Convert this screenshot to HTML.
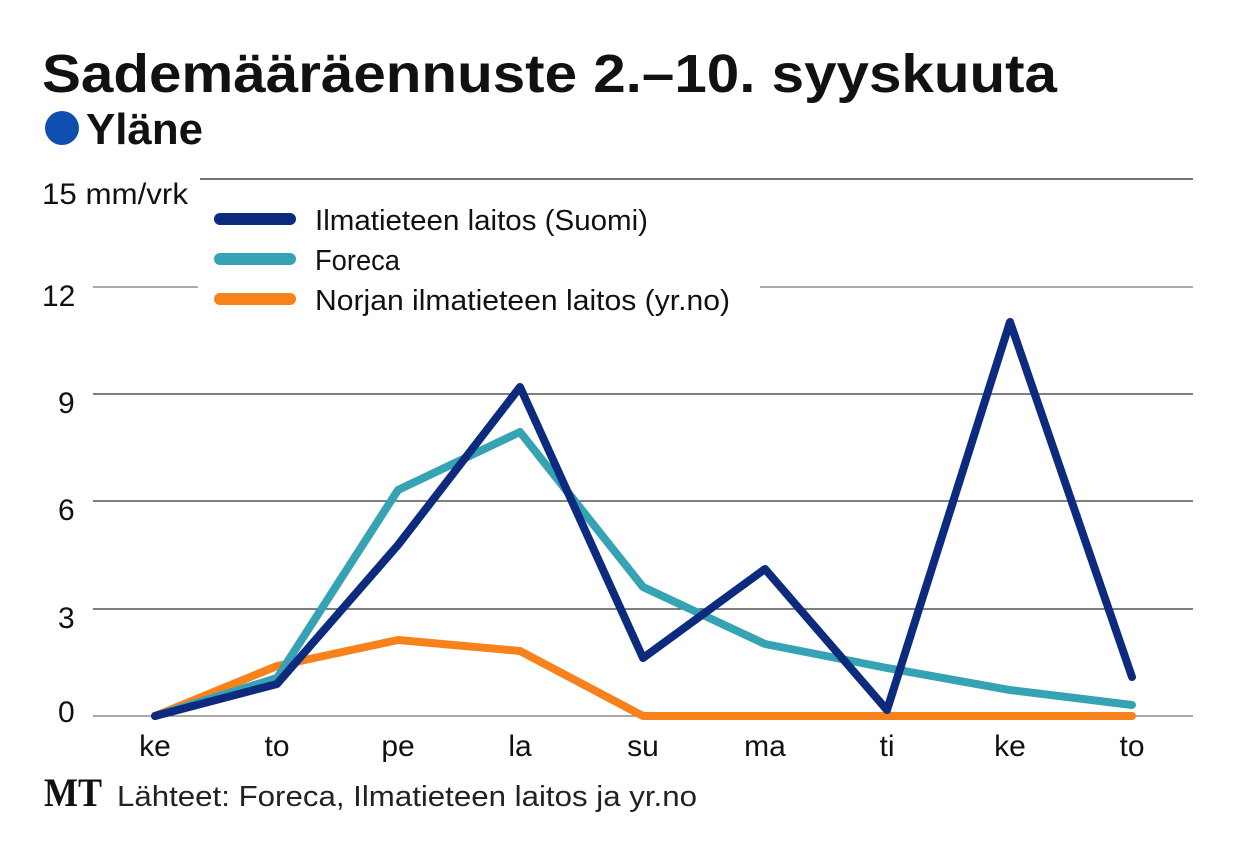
<!DOCTYPE html>
<html><head><meta charset="utf-8"><style>
body{margin:0;background:#fff;width:1240px;height:854px;overflow:hidden}
svg{display:block;font-family:"Liberation Sans",sans-serif}
</style></head><body>
<svg width="1240" height="854" viewBox="0 0 1240 854">
<text x="42" y="92" font-size="54" font-weight="bold" fill="#111" textLength="1015" lengthAdjust="spacingAndGlyphs">Sademääräennuste 2.–10. syyskuuta</text>
<circle cx="62" cy="128" r="17" fill="#0f4fb0"/>
<text x="86" y="144" font-size="44" font-weight="bold" fill="#111" textLength="117" lengthAdjust="spacingAndGlyphs">Yläne</text>
<g stroke="#777" stroke-width="1.3">
<line x1="200" y1="179" x2="1193" y2="179" stroke="#222"/>
<line x1="93" y1="287" x2="198" y2="287"/>
<line x1="760" y1="287" x2="1193" y2="287"/>
<line x1="93" y1="394" x2="1193" y2="394" stroke="#333"/>
<line x1="93" y1="501" x2="1193" y2="501" stroke="#333"/>
<line x1="93" y1="609" x2="1193" y2="609" stroke="#333"/>
<line x1="93" y1="716" x2="1193" y2="716"/>
</g>
<g font-size="30" fill="#111">
<text x="42" y="204" textLength="146" lengthAdjust="spacingAndGlyphs">15 mm/vrk</text>
<text x="42" y="306">12</text>
<text x="58" y="413">9</text>
<text x="58" y="520">6</text>
<text x="58" y="628">3</text>
<text x="58" y="722">0</text>
</g>
<g font-size="30" fill="#111" text-anchor="middle">
<text x="155" y="756">ke</text><text x="277" y="756">to</text><text x="398" y="756">pe</text>
<text x="520" y="756">la</text><text x="643" y="756">su</text><text x="765" y="756">ma</text>
<text x="887" y="756">ti</text><text x="1010" y="756">ke</text><text x="1132" y="756">to</text>
</g>
<g fill="none" stroke-width="8" stroke-linejoin="round" stroke-linecap="round">
<polyline stroke="#f7821b" points="155,716 277,666 398,640 520,651 643,716 765,716 887,716 1010,716 1132,716"/>
<polyline stroke="#36a3b5" points="155,716 277,678 398,490 520,432 643,587 765,644 887,668 1010,690 1132,705"/>
<polyline stroke="#0c2a7e" points="155,716 277,684 398,545 520,387 643,658 765,569 887,710 1010,322 1132,677"/>
</g>
<g stroke-width="12" stroke-linecap="round">
<line x1="220" y1="219" x2="290" y2="219" stroke="#0c2a7e"/>
<line x1="220" y1="259" x2="290" y2="259" stroke="#36a3b5"/>
<line x1="220" y1="299" x2="290" y2="299" stroke="#f7821b"/>
</g>
<g font-size="29" fill="#111">
<text x="315" y="230" textLength="333" lengthAdjust="spacingAndGlyphs">Ilmatieteen laitos (Suomi)</text>
<text x="315" y="270" textLength="85" lengthAdjust="spacingAndGlyphs">Foreca</text>
<text x="315" y="310" textLength="415" lengthAdjust="spacingAndGlyphs">Norjan ilmatieteen laitos (yr.no)</text>
</g>
<text x="44" y="806" font-family="Liberation Serif,serif" font-weight="bold" font-size="40" fill="#111" textLength="58" lengthAdjust="spacingAndGlyphs">MT</text>
<text x="117" y="806" font-size="29" fill="#222" textLength="580" lengthAdjust="spacingAndGlyphs">Lähteet: Foreca, Ilmatieteen laitos ja yr.no</text>
</svg>
</body></html>
